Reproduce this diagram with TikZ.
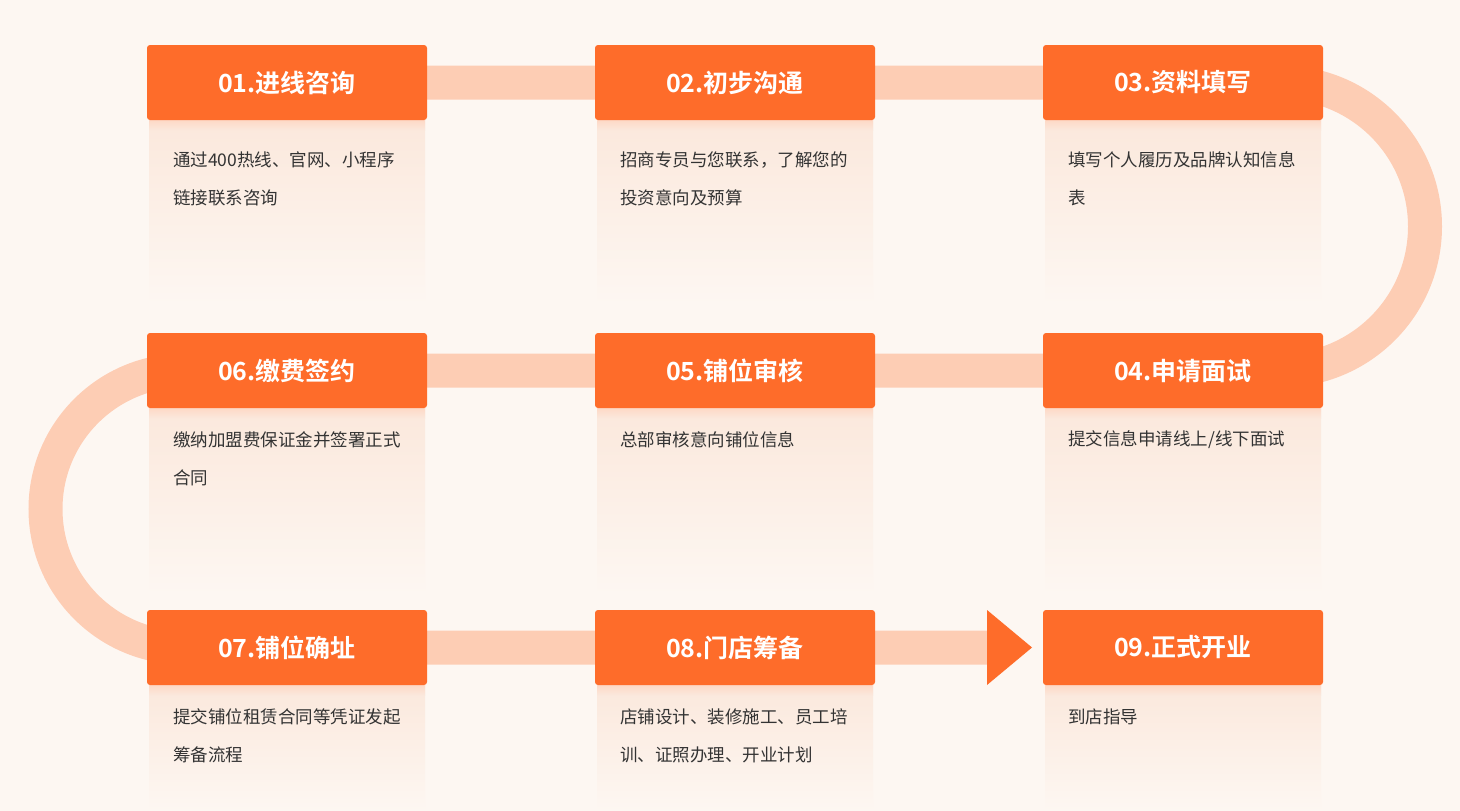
\documentclass[tikz,border=0pt]{standalone}
\usepackage{fontspec}
\setmainfont{Noto Sans CJK SC}[BoldFont=Noto Sans CJK SC Bold]
\usetikzlibrary{backgrounds}
\definecolor{bg}{HTML}{FDF7F2}
\definecolor{hdr}{HTML}{FE6C2A}
\definecolor{bandc}{HTML}{FDCDB4}
\definecolor{bodytop}{HTML}{FBE8DC}
\definecolor{txt}{HTML}{333333}
\tikzset{
  x=1pt,y=1pt,
  hdrbox/.style={fill=hdr,rounded corners=3pt,minimum width=280pt,minimum height=75pt,inner sep=0pt,
    text=white,font=\bfseries\fontsize{25}{29}\selectfont},
  bandline/.style={draw=bandc,line width=34pt},
  bodytxt/.style={anchor=west,inner sep=0pt,text=txt,font=\fontsize{17.5}{21}\selectfont},
}
\newcommand{\bodybox}[3]{%
  \shade[top color=bodytop,bottom color=bg] (#1+2,-#2) rectangle (#1+278,-#3);%
  \shade[top color=hdr!22!bg,bottom color=bodytop] (#1+2,-#2) rectangle (#1+278,-#2-10);}
\begin{document}
\begin{tikzpicture}
\useasboundingbox (0,0) rectangle (1460,-811);
% bodies
\bodybox{147}{120}{305}
\bodybox{595}{120}{305}
\bodybox{1043}{120}{305}
\bodybox{147}{408}{595}
\bodybox{595}{408}{595}
\bodybox{1043}{408}{595}
\bodybox{147}{685}{811}
\bodybox{595}{685}{811}
\bodybox{1043}{685}{811}
% headers
\node[hdrbox] (h1) at (287,-82.5) {01.进线咨询};
\node[hdrbox] (h2) at (735,-82.5) {02.初步沟通};
\node[hdrbox] (h3) at (1183,-82.5) {03.资料填写};
\node[hdrbox] (h4) at (1183,-370.5) {04.申请面试};
\node[hdrbox] (h5) at (735,-370.5) {05.铺位审核};
\node[hdrbox] (h6) at (287,-370.5) {06.缴费签约};
\node[hdrbox] (h7) at (287,-647.5) {07.铺位确址};
\node[hdrbox] (h8) at (735,-647.5) {08.门店筹备};
\node[hdrbox] (h9) at (1183,-647.5) {09.正式开业};
% arrow head
\coordinate (arrbase) at (988,-647.5);
\fill[hdr] (987,-610) -- (1032,-647.5) -- (987,-685) -- cycle;
% connectors
\begin{scope}[on background layer]
\fill[bg] (0,0) rectangle (1460,-811);
\draw[bandline] (h1.center) -- (h2.center) -- (h3.center) -- (1281,-82.5)
  arc[start angle=90,end angle=-90,radius=144] -- (h4.center) -- (h5.center) -- (h6.center) -- (184,-370.5)
  arc[start angle=90,end angle=270,radius=138.5] -- (h7.center) -- (h8.center) -- (arrbase);
\end{scope}
% body texts
\node[bodytxt] (t1a) at (173,-160) {通过400热线、官网、小程序};
\node[bodytxt] (t1b) at (173,-198) {链接联系咨询};
\node[bodytxt] (t2a) at (620,-160) {招商专员与您联系，了解您的};
\node[bodytxt] (t2b) at (620,-198) {投资意向及预算};
\node[bodytxt] (t3a) at (1068,-160) {填写个人履历及品牌认知信息};
\node[bodytxt] (t3b) at (1068,-198) {表};
\node[bodytxt] (t4a) at (1068,-440) {提交信息申请线上/线下面试};
\node[bodytxt] (t5a) at (620,-440) {总部审核意向铺位信息};
\node[bodytxt] (t6a) at (173,-440) {缴纳加盟费保证金并签署正式};
\node[bodytxt] (t6b) at (173,-478) {合同};
\node[bodytxt] (t7a) at (173,-717) {提交铺位租赁合同等凭证发起};
\node[bodytxt] (t7b) at (173,-755) {筹备流程};
\node[bodytxt] (t8a) at (620,-717) {店铺设计、装修施工、员工培};
\node[bodytxt] (t8b) at (620,-755) {训、证照办理、开业计划};
\node[bodytxt] (t9a) at (1068,-717) {到店指导};
\end{tikzpicture}
\end{document}
